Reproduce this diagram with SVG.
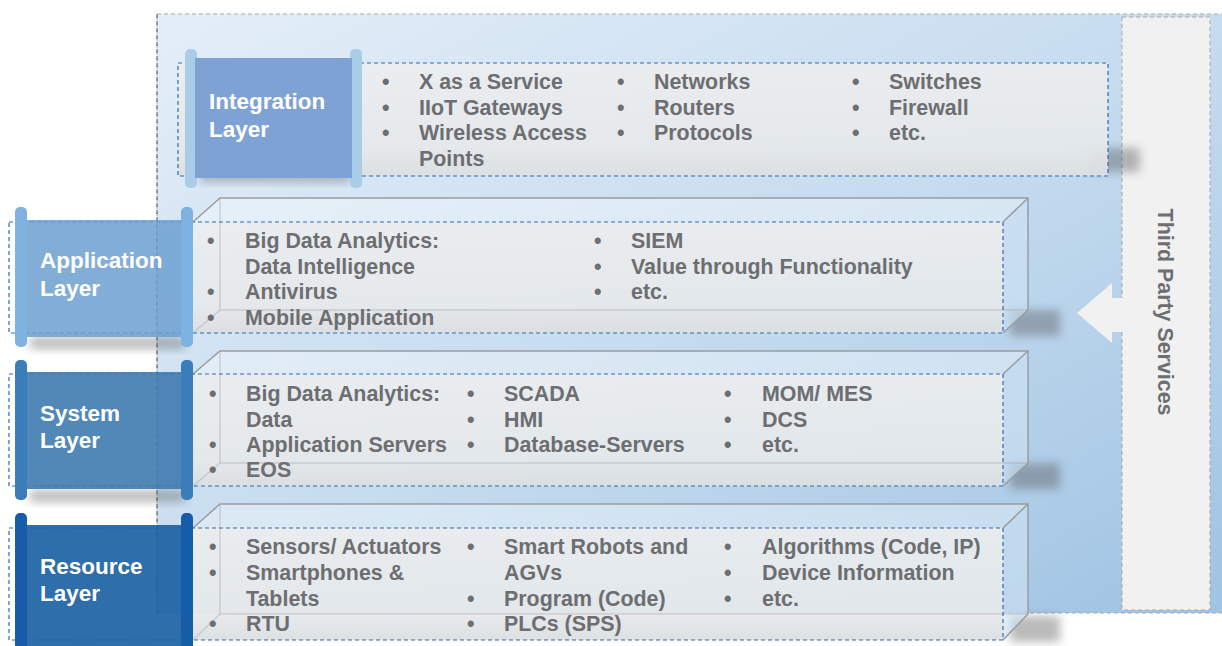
<svg xmlns="http://www.w3.org/2000/svg" width="1222" height="646" viewBox="0 0 1222 646">
<defs>
<linearGradient id="bg" x1="0" y1="0" x2="1" y2="1">
<stop offset="0" stop-color="#e4eef8"/>
<stop offset="0.5" stop-color="#c6dcef"/>
<stop offset="1" stop-color="#9fc3e3"/>
</linearGradient>
<linearGradient id="face" x1="0" y1="0" x2="0" y2="1">
<stop offset="0" stop-color="#eceeef" stop-opacity="0.92"/>
<stop offset="0.75" stop-color="#e6e9eb" stop-opacity="0.92"/>
<stop offset="1" stop-color="#dcdfe1" stop-opacity="0.95"/>
</linearGradient>
<filter id="sh" x="-20%" y="-50%" width="140%" height="200%">
<feGaussianBlur stdDeviation="5"/>
</filter>
<style>
.t{font-family:"Liberation Sans",Arial,sans-serif;font-weight:bold;font-size:21.4px;fill:#6d6e71}
.l{font-family:"Liberation Sans",Arial,sans-serif;font-weight:bold;font-size:22.5px;fill:#ffffff}
.dash{fill:none;stroke:#2a6db5;stroke-width:1.2;stroke-dasharray:4 3}
.edge{fill:none;stroke:#9a9c9e;stroke-width:1.5}
.top{fill:#ffffff;fill-opacity:0.35}
.side{fill:#cfe2f3;fill-opacity:0.6}
.shadow{fill:#555;opacity:0.4}
</style>
</defs>
<rect width="1222" height="646" fill="#ffffff"/>
<!-- background panel -->
<rect x="157" y="14" width="1070" height="599" fill="url(#bg)" stroke="#a8a8a8" stroke-dasharray="4 3"/>
<line x1="157" y1="14" x2="157" y2="613" stroke="#555" stroke-dasharray="4 3"/>
<!-- Third party services -->
<g id="third-party">
<rect x="1122" y="17" width="88" height="593" fill="#f0f1f0" stroke="#a8a8a8" stroke-dasharray="4 3"/>
<polygon points="1077,313 1112,283 1112,298 1123,298 1123,332 1112,332 1112,343" fill="#f0f1f0"/>
<text class="t" transform="translate(1158,312) rotate(90)" text-anchor="middle">Third Party Services</text>
</g>
<!-- Integration layer -->
<g id="integration">
<rect x="1090" y="148" width="50" height="24" class="shadow" filter="url(#sh)"/>
<rect x="178" y="63" width="930" height="113" fill="url(#face)"/>
<rect x="178" y="63" width="930" height="113" class="dash"/>
<rect x="200" y="170" width="150" height="12" class="shadow" filter="url(#sh)"/>
<rect x="185" y="49" width="12" height="139" rx="5" fill="#a9cde8"/>
<rect x="350" y="49" width="12" height="139" rx="5" fill="#a9cde8"/>
<rect x="195" y="58" width="157" height="120" fill="#7fa2d5"/>
<text class="l" x="209" y="109">Integration</text>
<text class="l" x="209" y="137">Layer</text>
<g class="t">
<text x="382" y="89">•</text><text x="419" y="89">X as a Service</text>
<text x="382" y="115">•</text><text x="419" y="115">IIoT Gateways</text>
<text x="382" y="140">•</text><text x="419" y="140">Wireless Access</text>
<text x="419" y="166">Points</text>
<text x="617" y="89">•</text><text x="654" y="89">Networks</text>
<text x="617" y="115">•</text><text x="654" y="115">Routers</text>
<text x="617" y="140">•</text><text x="654" y="140">Protocols</text>
<text x="852" y="89">•</text><text x="889" y="89">Switches</text>
<text x="852" y="115">•</text><text x="889" y="115">Firewall</text>
<text x="852" y="140">•</text><text x="889" y="140">etc.</text>
</g>
</g>
<!-- Application layer -->
<g id="application">
<rect x="1010" y="310" width="50" height="26" class="shadow" filter="url(#sh)"/>
<polygon class="top" points="193,222 220,198 1028,198 1003,222"/>
<polygon class="side" points="1003,222 1028,198 1028,310 1003,333"/>
<rect x="193" y="222" width="810" height="111" fill="url(#face)"/>
<polyline class="edge" points="193,222 220,198 1028,198 1028,310 1003,333"/>
<line class="edge" x1="1003" y1="222" x2="1028" y2="198"/>
<polyline class="edge" points="220,198 220,310 1028,310" stroke-opacity="0.35"/>
<line class="edge" x1="193" y1="333" x2="220" y2="310" stroke-opacity="0.35"/>
<rect x="9" y="222" width="994" height="111" class="dash"/>
<rect x="30" y="337" width="155" height="12" class="shadow" filter="url(#sh)"/>
<rect x="25" y="220" width="158" height="117" fill="#6c9fd0" fill-opacity="0.85"/>
<rect x="15" y="207" width="12" height="140" rx="5" fill="#7db2e1"/>
<rect x="181" y="207" width="12" height="140" rx="5" fill="#7db2e1"/>
<text class="l" x="40" y="268">Application</text>
<text class="l" x="40" y="296">Layer</text>
<g class="t">
<text x="207" y="248">•</text><text x="245" y="248">Big Data Analytics:</text>
<text x="245" y="274">Data Intelligence</text>
<text x="207" y="299">•</text><text x="245" y="299">Antivirus</text>
<text x="207" y="325">•</text><text x="245" y="325">Mobile Application</text>
<text x="594" y="248">•</text><text x="631" y="248">SIEM</text>
<text x="594" y="274">•</text><text x="631" y="274">Value through Functionality</text>
<text x="594" y="299">•</text><text x="631" y="299">etc.</text>
</g>
</g>
<!-- System layer -->
<g id="system">
<rect x="1010" y="463" width="50" height="26" class="shadow" filter="url(#sh)"/>
<polygon class="top" points="193,374 220,351 1028,351 1003,374"/>
<polygon class="side" points="1003,374 1028,351 1028,463 1003,486"/>
<rect x="193" y="374" width="810" height="112" fill="url(#face)"/>
<polyline class="edge" points="193,374 220,351 1028,351 1028,463 1003,486"/>
<line class="edge" x1="1003" y1="374" x2="1028" y2="351"/>
<polyline class="edge" points="220,351 220,463 1028,463" stroke-opacity="0.35"/>
<line class="edge" x1="193" y1="486" x2="220" y2="463" stroke-opacity="0.35"/>
<rect x="9" y="374" width="994" height="112" class="dash"/>
<rect x="30" y="490" width="155" height="12" class="shadow" filter="url(#sh)"/>
<rect x="25" y="372" width="158" height="117" fill="#3f7bb0" fill-opacity="0.9"/>
<rect x="15" y="360" width="12" height="140" rx="5" fill="#3a7db8"/>
<rect x="181" y="360" width="12" height="140" rx="5" fill="#3a7db8"/>
<text class="l" x="40" y="421">System</text>
<text class="l" x="40" y="448">Layer</text>
<g class="t">
<text x="209" y="401">•</text><text x="246" y="401">Big Data Analytics:</text>
<text x="246" y="427">Data</text>
<text x="209" y="452">•</text><text x="246" y="452">Application Servers</text>
<text x="209" y="477">•</text><text x="246" y="477">EOS</text>
<text x="467" y="401">•</text><text x="504" y="401">SCADA</text>
<text x="467" y="427">•</text><text x="504" y="427">HMI</text>
<text x="467" y="452">•</text><text x="504" y="452">Database-Servers</text>
<text x="724" y="401">•</text><text x="762" y="401">MOM/ MES</text>
<text x="724" y="427">•</text><text x="762" y="427">DCS</text>
<text x="724" y="452">•</text><text x="762" y="452">etc.</text>
</g>
</g>
<!-- Resource layer -->
<g id="resource">
<rect x="1010" y="616" width="50" height="26" class="shadow" filter="url(#sh)"/>
<polygon class="top" points="193,528 220,504 1028,504 1003,528"/>
<polygon class="side" points="1003,528 1028,504 1028,614 1003,640"/>
<rect x="193" y="528" width="810" height="112" fill="url(#face)"/>
<polyline class="edge" points="193,528 220,504 1028,504 1028,614 1003,640"/>
<line class="edge" x1="1003" y1="528" x2="1028" y2="504"/>
<polyline class="edge" points="220,504 220,614 1028,614" stroke-opacity="0.35"/>
<line class="edge" x1="193" y1="640" x2="220" y2="614" stroke-opacity="0.35"/>
<rect x="9" y="528" width="994" height="112" class="dash"/>
<rect x="25" y="525" width="158" height="121" fill="#1c62a3" fill-opacity="0.92"/>
<rect x="15" y="513" width="12" height="140" rx="5" fill="#165ca8"/>
<rect x="181" y="513" width="12" height="140" rx="5" fill="#165ca8"/>
<text class="l" x="40" y="574">Resource</text>
<text class="l" x="40" y="601">Layer</text>
<g class="t">
<text x="209" y="554">•</text><text x="246" y="554">Sensors/ Actuators</text>
<text x="209" y="580">•</text><text x="246" y="580">Smartphones &amp;</text>
<text x="246" y="606">Tablets</text>
<text x="209" y="631">•</text><text x="246" y="631">RTU</text>
<text x="467" y="554">•</text><text x="504" y="554">Smart Robots and</text>
<text x="504" y="580">AGVs</text>
<text x="467" y="606">•</text><text x="504" y="606">Program (Code)</text>
<text x="467" y="631">•</text><text x="504" y="631">PLCs (SPS)</text>
<text x="724" y="554">•</text><text x="762" y="554">Algorithms (Code, IP)</text>
<text x="724" y="580">•</text><text x="762" y="580">Device Information</text>
<text x="724" y="606">•</text><text x="762" y="606">etc.</text>
</g>
</g>
</svg>
